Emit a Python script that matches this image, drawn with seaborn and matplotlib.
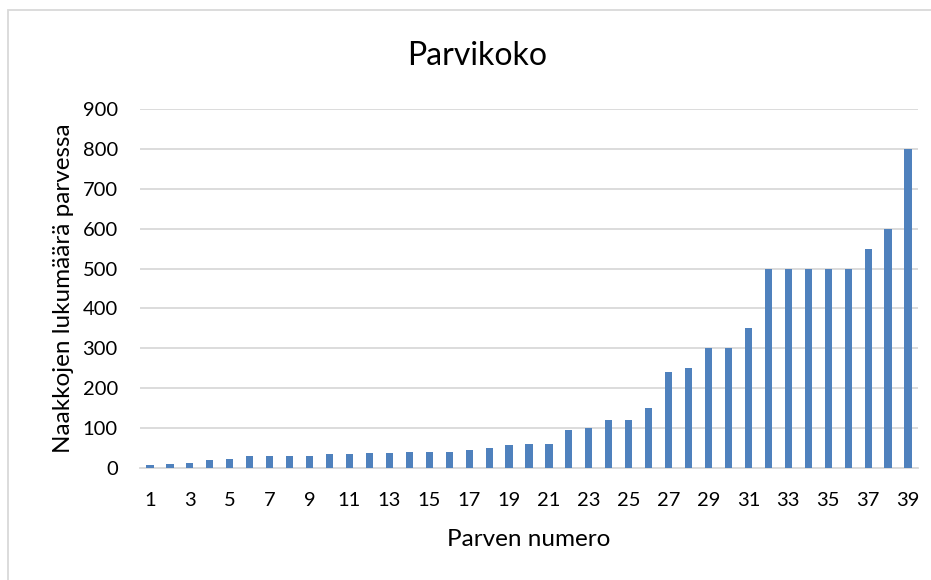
import matplotlib
matplotlib.use("Agg")
import matplotlib.pyplot as plt
import matplotlib.patches as mpatches
import pandas as pd
import seaborn as sns

# Parven numero 1..39 and flock sizes
parven_numero = list(range(1, 40))
naakkoja = [8, 10, 12, 20, 22, 30, 30, 30, 30, 35,
            35, 37, 38, 40, 40, 40, 45, 50, 58, 60,
            60, 95, 100, 120, 120, 150, 240, 250, 300, 300,
            350, 500, 500, 500, 500, 500, 550, 600, 800]
y_ticks = [0, 100, 200, 300, 400, 500, 600, 700, 800, 900]

BAR_COLOR = "#4F81BD"
GRID_COLOR = "#D9D9D9"
TEXT_COLOR = "#000000"

sns.set_theme(style="white")
plt.rcParams["font.family"] = ["Lato", "DejaVu Sans"]

df = pd.DataFrame({"numero": [str(n) for n in parven_numero], "koko": naakkoja})

fig = plt.figure(figsize=(9.31, 5.80), dpi=100)
# light chart-area border, cut off at right and bottom like the screenshot
fig.patches.append(mpatches.Rectangle((8 / 931, -10 / 580), 940 / 931, 580 / 580,
                                      transform=fig.transFigure, fill=False,
                                      edgecolor=GRID_COLOR, linewidth=1.3))

ax = fig.add_axes([140 / 931, 1 - 468 / 580, 778 / 931, 359 / 580])
sns.barplot(data=df, x="numero", y="koko", color=BAR_COLOR, width=0.36,
            saturation=1, linewidth=0, ax=ax, zorder=3)

ax.set_xlim(-0.5, len(parven_numero) - 0.5)
ax.set_ylim(0, 900)
ax.set_yticks(y_ticks)
ax.set_yticklabels([str(t) for t in y_ticks], fontsize=14.5, color=TEXT_COLOR)
ax.set_xticks(range(0, len(parven_numero), 2))
ax.set_xticklabels([str(parven_numero[i]) for i in range(0, len(parven_numero), 2)],
                   fontsize=14.5, color=TEXT_COLOR)
ax.tick_params(axis="both", length=0)
ax.tick_params(axis="y", pad=16)
ax.tick_params(axis="x", pad=17)

ax.yaxis.grid(True, color=GRID_COLOR, linewidth=1.3, zorder=0)
ax.set_axisbelow(True)
for side in ["top", "right", "left"]:
    ax.spines[side].set_visible(False)
ax.spines["bottom"].set_color(GRID_COLOR)
ax.spines["bottom"].set_linewidth(1.3)

ax.set_xlabel("Parven numero", fontsize=17.5, color=TEXT_COLOR, va="center")
ax.xaxis.set_label_coords(0.5, (468 - 540) / 359)
ax.set_ylabel("Naakkojen lukumäärä parvessa", fontsize=17.5, color=TEXT_COLOR,
              va="center", ha="center")
ax.yaxis.label.set_rotation_mode("default")
ax.yaxis.set_label_coords((64 - 140) / 778, 0.5)
fig.text(477 / 931, 1 - 56 / 580, "Parvikoko", fontsize=23, color=TEXT_COLOR,
         ha="center", va="center")

fig.savefig("out.png", dpi=100)
